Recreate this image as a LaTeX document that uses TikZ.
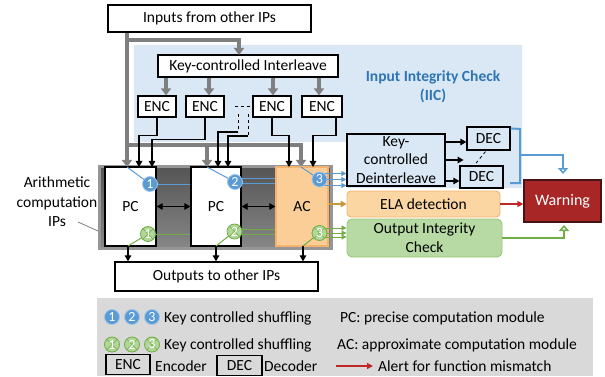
\documentclass[tikz,border=0pt]{standalone}
\usepackage{fontspec}
\setmainfont{Carlito}
\usetikzlibrary{arrows.meta,calc}
\definecolor{iicblue}{RGB}{218,232,245}
\definecolor{linegray}{RGB}{127,127,127}
\definecolor{cblue}{RGB}{91,155,213}
\definecolor{cbluedge}{RGB}{160,196,230}
\definecolor{cgreen}{RGB}{112,173,71}
\definecolor{lgreen}{RGB}{176,214,152}
\definecolor{oicgreen}{RGB}{183,217,163}
\definecolor{oicedge}{RGB}{150,200,120}
\definecolor{acorange}{RGB}{250,206,150}
\definecolor{orangeedge}{RGB}{244,178,110}
\definecolor{elafill}{RGB}{251,214,162}
\definecolor{warnred}{RGB}{168,38,38}
\definecolor{alertred}{RGB}{192,40,40}
\definecolor{legendgray}{RGB}{217,217,217}
\definecolor{titleblue}{RGB}{46,117,182}
\definecolor{ochre}{RGB}{200,150,60}
\definecolor{blockdark}{RGB}{85,85,85}
\definecolor{blocklight}{RGB}{135,135,135}
\definecolor{blockedge}{RGB}{150,150,150}
\begin{document}
\begin{tikzpicture}[x=1pt,y=-1pt,
  every node/.style={font=\fontsize{15.5}{18.5}\selectfont},
  box/.style={draw=black, line width=1.2pt, fill=white, inner sep=0pt, align=center},
  encbox/.style={box, minimum width=38pt, minimum height=21pt},
  decbox/.style={box, fill=iicblue, minimum width=43pt, minimum height=22pt},
  lbox/.style={box, fill=legendgray, minimum height=20pt},
  bk/.style={draw=black, line width=1.1pt, -{Triangle[length=6pt,width=6.5pt]}},
  bkline/.style={draw=black, line width=1.1pt},
  dbl/.style={draw=black, line width=1.2pt, {Triangle[length=6pt,width=6.5pt]}-{Triangle[length=6pt,width=6.5pt]}},
  gk/.style={draw=linegray, line width=4pt, -{Triangle[length=7pt,width=10pt]}},
  bw/.style={draw=cblue, line width=1pt},
  bwa/.style={bw, -{Triangle[length=5pt,width=5pt]}},
  gw/.style={draw=cgreen, line width=1pt},
  gwa/.style={gw, -{Triangle[length=5pt,width=5pt]}},
  bcirc/.style={circle, fill=cblue, draw=cbluedge, line width=0.8pt, inner sep=0pt, minimum size=15pt, text=white, font=\fontsize{14}{14}\selectfont},
  gcirc/.style={circle, fill=lgreen, draw=cgreen, line width=0.8pt, inner sep=0pt, minimum size=15pt, text=white, font=\fontsize{14}{14}\selectfont,
    path picture={\draw[cgreen, line width=0.6pt] (path picture bounding box.south west) -- (path picture bounding box.north east) (path picture bounding box.north west) -- (path picture bounding box.south east);}},
  lt/.style={anchor=base west, inner sep=0pt},
  ra/.style={draw=alertred, line width=1.3pt, -{Triangle[length=6pt,width=6pt]}},
]
\useasboundingbox (0,0) rectangle (605,377);

% IIC background
\fill[iicblue] (134,45) -- (522,45) -- (522,188) -- (347,188) -- (347,142) -- (134,142) -- cycle;

% named points
\coordinate (pc1g) at (127,167);
\coordinate (pc2g) at (207,167);
\coordinate (acg) at (301,167);
\coordinate (gbr1) at (127,40);
\coordinate (gbr2) at (127,145);
\coordinate (ilg) at (239,55);
\coordinate (pc1b1) at (139,167);
\coordinate (pc1b2) at (152,167);
\coordinate (pc2b1) at (218,167);
\coordinate (pc2b2) at (228,167);
\coordinate (acb1) at (289,167);
\coordinate (acb2) at (313,167);
\coordinate (dv1) at (238,114);
\coordinate (dv1b) at (238,132);
\coordinate (dv2) at (248,114);
\coordinate (dv2b) at (248,136);
\coordinate (o1) at (128,246);
\coordinate (o2) at (216,246);
\coordinate (o3) at (303,246);
\coordinate (br1) at (520,129);
\coordinate (br2) at (520,183);
\coordinate (brm) at (520,155);
\coordinate (wt) at (563,174);
\coordinate (wb) at (564,225);
\coordinate (arpt1) at (78,222);
\coordinate (arpt2) at (98,231);

% boxes top
\node[box, minimum width=203pt, minimum height=27pt] (inputs) at (209.5,18.5) {Inputs from other IPs};
\node[box, minimum width=180pt, minimum height=22pt] (interleave) at (248,66) {Key-controlled Interleave};
\node[encbox] (enc1) at (157,106.5) {ENC};
\node[encbox] (enc2) at (205,106.5) {ENC};
\node[encbox] (enc3) at (272,106.5) {ENC};
\node[encbox, minimum width=40pt] (enc4) at (322,106.5) {ENC};

% gray input lines
\draw[gk] (inputs.south -| pc1g) -- (pc1g);
\draw[gk] (gbr1) -| (ilg);
\draw[gk] (gbr2) -| (acg);
\draw[gk] (pc2g |- gbr2) -- (pc2g);
\draw[gk] ($(interleave.south -| enc1.north)+(9,0)$) -- ($(enc1.north)+(9,0)$);
\draw[gk] ($(interleave.south -| enc2.north)+(4,0)$) -- ($(enc2.north)+(4,0)$);
\draw[gk] ($(interleave.south -| enc3.north)+(1,0)$) -- ($(enc3.north)+(1,0)$);
\draw[gk] ($(interleave.south -| enc4.north)+(-3,0)$) -- ($(enc4.north)+(-3,0)$);

% gray block and modules
\node[draw=blockedge, line width=3pt, top color=blockdark, bottom color=blocklight, minimum width=232pt, minimum height=82pt, inner sep=0pt] (ipblock) at (215.5,207.5) {};
\node[box, minimum width=51pt, minimum height=79pt] (pc1) at (130.5,206.5) {PC};
\node[box, minimum width=50pt, minimum height=79pt] (pc2) at (216,206.5) {PC};
\node[box, draw=orangeedge, fill=acorange, minimum width=52pt, minimum height=79pt] (ac) at (302,206.5) {AC};

% ENC wires
\draw[bk] (enc1.south) -- ++(0,17.5) -| (pc1b1);
\draw[bk] (enc2.south) -- ++(0,21.5) -| (pc1b2);
\draw[bkline, dashed, line width=0.9pt] ($(enc2.east)+(10,0)$) -- (enc3.west);
\draw[bkline, dashed, line width=0.9pt] (dv1) -- (dv1b);
\draw[bkline, dashed, line width=0.9pt] (dv2) -- (dv2b);
\draw[bk] (dv1b) -| (pc2b1);
\draw[bk] (dv2b) -| (pc2b2);
\draw[bk] (enc3.south) -- ++(0,17.5) -| (acb1);
\draw[bk] ($(enc4.south)+(14,0)$) -- ++(0,17.5) -| (acb2);

% double arrows
\draw[dbl] (pc1.east) -- (pc2.west);
\draw[dbl] (pc2.east) -- (ac.west);

% right side boxes
\node[box, fill=iicblue, minimum width=98pt, minimum height=52pt] (deinter) at (396,160) {Key-\\controlled\\Deinterleave};
\node[decbox, minimum height=23pt] (dec1) at (488.5,138.5) {DEC};
\node[decbox] (dec2) at (481.5,177) {DEC};
\node[box, draw=orangeedge, fill=elafill, rounded corners=4pt, line width=0.9pt, minimum width=153pt, minimum height=26pt] (ela) at (423.5,204) {ELA detection};
\node[box, draw=oicedge, fill=oicgreen, rounded corners=5pt, line width=0.9pt, minimum width=155pt, minimum height=38pt, font=\fontsize{15.5}{19}\selectfont] (oic) at (424.5,238) {Output Integrity\\Check};
\node[box, draw={rgb,255:red,70;green,20;blue,20}, fill=warnred, text=white, minimum width=77pt, minimum height=42pt, font=\fontsize{16}{18}\selectfont] (warning) at (562.5,201) {Warning};

\draw[bk] ($(deinter.east)+(0,-18)$) -- ($(deinter.east -| dec1.west)+(0,-18)$);
\draw[bk] (deinter.east) -- ($(deinter.east)+(18,0)$);
\draw[bk] ($(deinter.east)+(0,21)$) -- ($(deinter.east -| dec2.west)+(0,21)$);
\draw[bkline, dashed, line width=0.8pt] ($(dec1.south)+(-3,1)$) -- ($(dec2.north)+(-6.5,-1)$);

% blue bracket to warning
\draw[draw=cblue, line width=2pt] ($(dec1.north east)+(0,2)$) -- (br1) -- (br2) -- ($(br2)+(-10,0)$);
\draw[draw=cblue, line width=2pt, -{Triangle[open,fill=white,length=6pt,width=10pt]}] (brm) -| (wt);
% arrows into warning
\draw[draw=ochre, line width=1.3pt, -{Triangle[length=6pt,width=6.5pt]}] (ac.east |- ela.west) -- (ela.west);
\draw[ra] (ela.east) -- (ela.east -| warning.west);
\draw[draw=cgreen, line width=2pt, -{Triangle[open,fill=white,length=6pt,width=10pt]}] (oic.east) -| (wb);

% outputs
\node[box, minimum width=203pt, minimum height=29pt] (outputs) at (216.5,276.5) {Outputs to other IPs};
\draw[bk] (o1) -- (o1 |- outputs.north);
\draw[bk] (o2) -- (o2 |- outputs.north);
\draw[bk] (o3) -- (o3 |- outputs.north);

% shuffling circles (positions)
\coordinate (bc1) at (150,184);
\coordinate (bc2) at (235,182);
\coordinate (bc3) at (319.5,179.5);
\coordinate (gc1) at (148,234);
\coordinate (gc2) at (234.5,231.5);
\coordinate (gc3) at (319.5,233);

\draw[bw] (pc1g) -- (bc1);
\draw[bw] (pc2g) -- (bc2);
\draw[bw] (acg) -- (bc3);
\draw[bw] (bc1) -- (bc1 -| pc2.west);
\draw[bw] ($(bc2)+(0,-3.5)$) -- ($(bc2 -| ac.west)+(0,-3.5)$);
\draw[bw] ($(bc2)+(0,1.5)$) -- ($(bc2 -| ac.west)+(0,1.5)$);
\draw[bwa] ($(bc3)+(0,-6)$) -- ($(bc3 -| deinter.west)+(0,-6)$);
\draw[bwa] (bc3) -- (bc3 -| deinter.west);
\draw[bwa] ($(bc3)+(0,6)$) -- ($(bc3 -| deinter.west)+(0,6)$);
\draw[gw] (o1) -- (gc1);
\draw[gw] (o2) -- (gc2);
\draw[gw] (o3) -- (gc3);
\draw[gw] (gc1) -- (gc1 -| pc2.west);
\draw[gw] ($(gc2)+(0,-2)$) -- ($(gc2 -| ac.west)+(0,-2)$);
\draw[gw] ($(gc2)+(0,2.5)$) -- ($(gc2 -| ac.west)+(0,2.5)$);
\draw[gwa] ($(gc3)+(0,-5)$) -- ($(gc3 -| oic.west)+(0,-5)$);
\draw[gwa] (gc3) -- (gc3 -| oic.west);
\draw[gwa] ($(gc3)+(0,4)$) -- ($(gc3 -| oic.west)+(0,4)$);

\node[bcirc] (c1) at (bc1) {1};
\node[bcirc] (c2) at (bc2) {2};
\node[bcirc] (c3) at (bc3) {3};
\node[gcirc] (d1) at (gc1) {1};
\node[gcirc] (d2) at (gc2) {2};
\node[gcirc] (d3) at (gc3) {3};

% labels
\node[align=center, text=titleblue, font=\fontsize{15.5}{19}\selectfont\bfseries] (iic) at (433,86.5) {Input Integrity Check\\(IIC)};
\node[align=center, font=\fontsize{15.5}{19.5}\selectfont] (arlabel) at (57,202) {Arithmetic\\computation\\IPs};
\draw[draw=gray, line width=0.8pt] (arpt1) -- (arpt2);

% legend
\node[fill=legendgray, minimum width=496pt, minimum height=78pt, inner sep=0pt] (legend) at (345,337) {};
\node[bcirc] (lb1) at (112,317) {1};
\node[bcirc] (lb2) at (132,317) {2};
\node[bcirc] (lb3) at (152,317) {3};
\node[gcirc] (lg1) at (112,344.5) {1};
\node[gcirc] (lg2) at (132,344.5) {2};
\node[gcirc] (lg3) at (152,344.5) {3};
\node[lt] (lk1) at (164,322.5) {Key controlled shuffling};
\node[lt] (lk2) at (164,349.5) {Key controlled shuffling};
\node[lt] (lpc) at (340,322.5) {PC: precise computation module};
\node[lt] (lac) at (337,349.5) {AC: approximate computation module};
\node[lbox, minimum width=44pt] (lenc) at (128,364.5) {ENC};
\node[lt] (lencT) at (155,371) {Encoder};
\node[lbox, minimum width=45pt] (ldec) at (239.5,365.5) {DEC};
\node[lt] (ldecT) at (264,371) {Decoder};
\node[lt] (lalert) at (378,371) {Alert for function mismatch};
\draw[ra] ($(lalert.base west)+(-42,-5)$) -- ($(lalert.base west)+(-5,-5)$);
\end{tikzpicture}
\end{document}
